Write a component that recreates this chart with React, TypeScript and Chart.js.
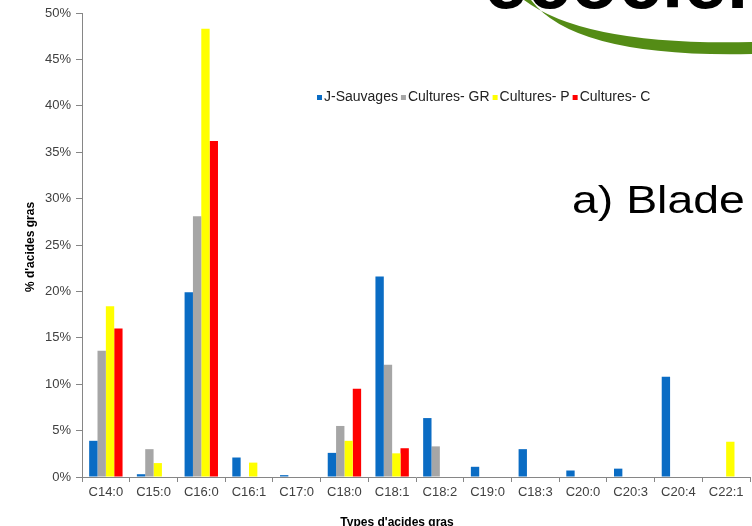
import React, { useEffect, useRef } from "react";
import { Chart, registerables } from "chart.js";

Chart.register(...registerables);

const categories = ["C14:0", "C15:0", "C16:0", "C16:1", "C17:0", "C18:0", "C18:1", "C18:2", "C19:0", "C18:3", "C20:0", "C20:3", "C20:4", "C22:1"];
const seriesNames = ["J-Sauvages", "Cultures- GR", "Cultures- P", "Cultures- C"];
const seriesColors = ["#0A6CC4", "#A6A6A6", "#FFFF00", "#FF0000"];
const jSauvages = [3.9, 0.3, 19.9, 2.1, 0.2, 2.6, 21.6, 6.35, 1.1, 3.0, 0.7, 0.9, 10.8, 0];
const culturesGR = [13.6, 3.0, 28.1, 0, 0, 5.5, 12.1, 3.3, 0, 0, 0, 0, 0, 0];
const culturesP = [18.4, 1.5, 48.3, 1.55, 0, 3.9, 2.55, 0, 0, 0, 0, 0, 0, 3.8];
const culturesC = [16.0, 0, 36.2, 0, 0, 9.5, 3.1, 0, 0, 0, 0, 0, 0, 0];
const yTickValues = [0, 5, 10, 15, 20, 25, 30, 35, 40, 45, 50];
const yTitle = "% d'acides gras";
const xTitle = "Types d'acides gras";
const panelLabel = "a) Blade";
const logoText = "ecocier";

const FONT = "'Liberation Sans', Arial, sans-serif";
const AXIS = "#868686";

const decorPlugin = {
  id: "decor",
  afterDraw(chart: any) {
    const ctx = chart.ctx as CanvasRenderingContext2D;
    ctx.save();

    // partial logo at top right
    ctx.fillStyle = "#000";
    ctx.font = `bold 78px ${FONT}`;
    ctx.textBaseline = "alphabetic";
    ctx.textAlign = "left";
    ctx.fillText(logoText, 484, 8);

    // green swoosh
    ctx.fillStyle = "#548C16";
    ctx.beginPath();
    ctx.moveTo(524, 0);
    ctx.quadraticCurveTo(585, 46, 752, 42);
    ctx.lineTo(752, 54);
    ctx.quadraticCurveTo(575, 58, 531, 0);
    ctx.closePath();
    ctx.fill();

    // panel label
    ctx.save();
    ctx.fillStyle = "#000";
    ctx.font = `39px ${FONT}`;
    ctx.textBaseline = "alphabetic";
    ctx.translate(572, 213);
    ctx.scale(1.19, 1);
    ctx.fillText(panelLabel, 0, 0);
    ctx.restore();

    // legend
    ctx.font = `14px ${FONT}`;
    ctx.textBaseline = "middle";
    let x = 317;
    const ly = 97;
    chart.data.datasets.forEach((ds: any) => {
      ctx.fillStyle = ds.backgroundColor;
      ctx.fillRect(x, ly - 2, 5, 5);
      x += 7;
      ctx.fillStyle = "#222";
      ctx.fillText(ds.label, x, ly);
      x += ctx.measureText(ds.label).width + 3;
    });

    // axis titles
    ctx.fillStyle = "#000";
    ctx.font = `bold 12px ${FONT}`;
    ctx.textAlign = "center";
    ctx.textBaseline = "middle";
    ctx.fillText(xTitle, 397, 523);
    ctx.save();
    ctx.translate(31, 247);
    ctx.rotate(-Math.PI / 2);
    ctx.fillText(yTitle, 0, 0);
    ctx.restore();

    ctx.restore();
  },
};

export default function App() {
  const ref = useRef<HTMLCanvasElement | null>(null);

  useEffect(() => {
    if (!ref.current) return;
    const seriesData = [jSauvages, culturesGR, culturesP, culturesC];
    const chart = new Chart(ref.current, {
      type: "bar",
      data: {
        labels: categories,
        datasets: seriesNames.map((name, i) => ({
          label: name,
          data: seriesData[i],
          backgroundColor: seriesColors[i],
          borderWidth: 0,
          barPercentage: 1,
          categoryPercentage: 0.7,
        })),
      },
      options: {
        responsive: false,
        animation: false,
        devicePixelRatio: 1,
        layout: { padding: { top: 13, right: 2, left: 0, bottom: 0 } },
        plugins: {
          legend: { display: false },
          tooltip: { enabled: false },
          title: { display: false },
        },
        scales: {
          x: {
            afterFit: (s: any) => {
              s.height = 49;
            },
            border: { color: AXIS, width: 1 },
            grid: {
              offset: true,
              drawOnChartArea: false,
              drawTicks: true,
              tickLength: 5,
              color: AXIS,
            },
            ticks: {
              color: "#404040",
              font: { family: FONT, size: 13 },
              padding: 3,
              maxRotation: 0,
              autoSkip: false,
            },
          },
          y: {
            min: 0,
            max: 50,
            afterFit: (s: any) => {
              s.width = 82;
            },
            afterBuildTicks: (s: any) => {
              s.ticks = yTickValues.map((v) => ({ value: v }));
            },
            border: { color: AXIS, width: 1 },
            grid: {
              drawOnChartArea: false,
              drawTicks: true,
              tickLength: 6,
              color: AXIS,
            },
            ticks: {
              color: "#404040",
              font: { family: FONT, size: 13 },
              padding: 5,
              callback: (v: any) => `${v}%`,
            },
          },
        },
      },
      plugins: [decorPlugin],
    });
    return () => chart.destroy();
  }, []);

  return (
    <div style={{ position: "fixed", left: 0, top: 0, width: 752, height: 526, background: "#fff" }}>
      <canvas ref={ref} width={752} height={526} style={{ display: "block", width: 752, height: 526 }} />
    </div>
  );
}
